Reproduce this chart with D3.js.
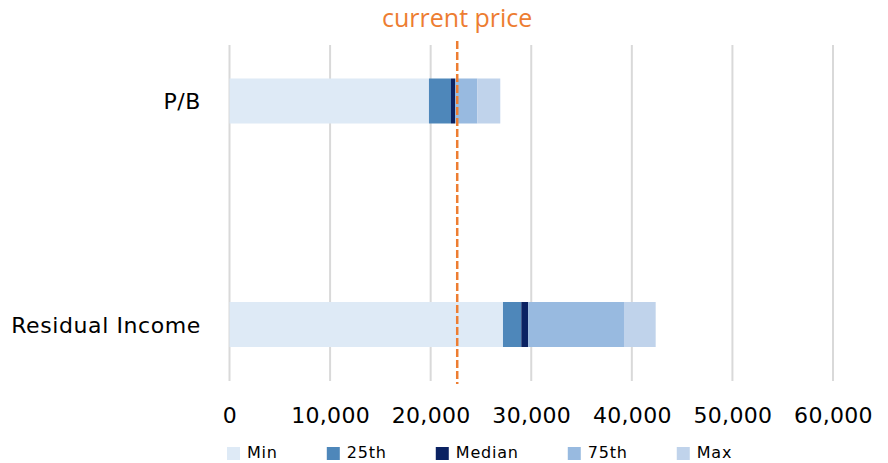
<!DOCTYPE html>
<html>
<head>
<meta charset="utf-8">
<script src="https://cdn.jsdelivr.net/npm/d3@7"></script>
<style>
  html, body { margin: 0; padding: 0; background: #fff; }
  svg { display: block; }
</style>
</head>
<body>
<svg id="chart" width="888" height="463"></svg>
<script>
// ---- data ----
const categories = ["P/B", "Residual Income"];
const seriesNames = ["Min", "25th", "Median", "75th", "Max"];
// quantile values per category (cumulative positions)
const minValues    = [19830, 27190];
const p25Values    = [22020, 29010];
const medianValues = [22420, 29700];
const p75Values    = [24630, 39220];
const maxValues    = [26920, 42370];
const currentPrice = 22640;
const tickValues = [0, 10000, 20000, 30000, 40000, 50000, 60000];
const seriesColors = ["#DEEAF6", "#4E87BA", "#0B2262", "#98BAE0", "#C0D3EB"];

// ---- layout ----
const svg = d3.select("#chart");
const x = d3.scaleLinear().domain([0, 60000]).range([229.5, 833]);
const y = d3.scalePoint().domain(categories).range([101, 324.5]);
const barH = 45;
const plotTop = 45, plotBottom = 381;

// gridlines
svg.append("g").selectAll("line").data(tickValues).join("line")
  .attr("x1", d => x(d)).attr("x2", d => x(d))
  .attr("y1", plotTop).attr("y2", plotBottom)
  .attr("stroke", "#D9D9D9").attr("stroke-width", 2);

// stacked segments
const quantiles = [minValues, p25Values, medianValues, p75Values, maxValues];
const segs = [];
categories.forEach((c, i) => {
  let prev = 0;
  quantiles.forEach((arr, k) => {
    segs.push({ cat: c, series: seriesNames[k], x0: prev, x1: arr[i], color: seriesColors[k] });
    prev = arr[i];
  });
});
svg.append("g").selectAll("rect").data(segs).join("rect")
  .attr("x", d => x(d.x0))
  .attr("width", d => x(d.x1) - x(d.x0))
  .attr("y", d => y(d.cat) - barH / 2)
  .attr("height", barH)
  .attr("fill", d => d.color);

// current price line
svg.append("line")
  .attr("x1", x(currentPrice)).attr("x2", x(currentPrice))
  .attr("y1", 41).attr("y2", 384)
  .attr("stroke", "#ED7D31").attr("stroke-width", 2.5)
  .attr("stroke-dasharray", "8,3");

svg.append("text")
  .attr("x", x(currentPrice)).attr("y", 27)
  .attr("text-anchor", "middle")
  .attr("font-family", "'Open Sans', sans-serif")
  .attr("font-size", 25)
  .attr("fill", "#ED7D31")
  .text("current price");

// x axis labels
const xAxis = d3.axisBottom(x).tickValues(tickValues).tickSize(0).tickPadding(0)
  .tickFormat(d3.format(","));
const gx = svg.append("g").attr("transform", "translate(0,423)").call(xAxis);
gx.select(".domain").remove();
gx.selectAll("text")
  .attr("dy", 0).attr("y", 0)
  .attr("font-family", "'DejaVu Sans', sans-serif")
  .attr("font-size", 22)
  .attr("letter-spacing", 0.3)
  .attr("fill", "#000");

// category labels
const yAxis = d3.axisLeft(y).tickSize(0).tickPadding(0);
const gy = svg.append("g").attr("transform", "translate(201,0)").call(yAxis);
gy.select(".domain").remove();
gy.selectAll("text")
  .attr("x", 0).attr("dy", "0.36em")
  .attr("font-family", "'DejaVu Sans', sans-serif")
  .attr("font-size", 22)
  .attr("letter-spacing", 0.6)
  .attr("fill", "#000");

// legend
const legend = svg.append("g");
let lx = 227;
seriesNames.forEach((name, k) => {
  legend.append("rect").attr("x", lx).attr("y", 447).attr("width", 13).attr("height", 13)
    .attr("fill", seriesColors[k]);
  const t = legend.append("text").attr("x", lx + 20).attr("y", 458)
    .attr("font-family", "'DejaVu Sans', sans-serif")
    .attr("font-size", 16)
    .attr("letter-spacing", 0.8)
    .attr("fill", "#000")
    .text(name);
  lx = lx + 20 + t.node().getComputedTextLength() + 49;
});
</script>
</body>
</html>
